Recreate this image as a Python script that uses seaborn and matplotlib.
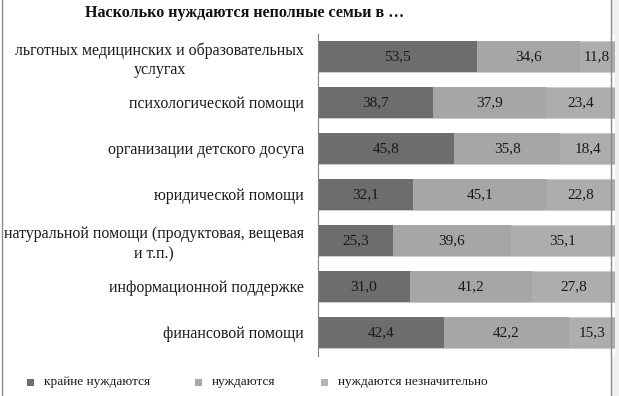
import matplotlib
matplotlib.use("Agg")
import matplotlib.pyplot as plt
import seaborn as sns
import numpy as np
import pandas as pd
from matplotlib.lines import Line2D
from matplotlib.patches import Rectangle

categories = [
    "льготных медицинских и образовательных\nуслугах",
    "психологической помощи",
    "организации детского досуга",
    "юридической помощи",
    "натуральной помощи (продуктовая, вещевая\nи т.п.)",
    "информационной поддержке",
    "финансовой помощи",
]
series_names = ["крайне нуждаются", "нуждаются", "нуждаются незначительно"]
s1 = [53.5, 38.7, 45.8, 32.1, 25.3, 31.0, 42.4]
s2 = [34.6, 37.9, 35.8, 45.1, 39.6, 41.2, 42.2]
s3 = [11.8, 23.4, 18.4, 22.8, 35.1, 27.8, 15.3]
labels = [["53,5", "38,7", "45,8", "32,1", "25,3", "31,0", "42,4"],
          ["34,6", "37,9", "35,8", "45,1", "39,6", "41,2", "42,2"],
          ["11,8", "23,4", "18,4", "22,8", "35,1", "27,8", "15,3"]]
colors = ["#6d6d6d", "#a6a6a6", "#adadad"]
legend_colors = ["#707070", "#a8a8a8", "#b4b4b4"]

sns.set_style("white")
plt.rcParams["font.family"] = ["Liberation Serif", "DejaVu Serif"]

W, H = 619, 396
fig = plt.figure(figsize=(W / 100, H / 100), dpi=100)
ax = fig.add_axes([318 / W, (H - 355.5) / H, (615 - 318) / W, (355.5 - 33.5) / H])

vals = np.array([s1, s2, s3])
cum = np.cumsum(vals, axis=0)
df = pd.DataFrame({"cat": categories})
# draw from the total down so each layer shows the right segment
for i in [2, 1, 0]:
    df["v"] = cum[i]
    sns.barplot(data=df, x="v", y="cat", orient="h", color=colors[i],
                saturation=1, width=0.68, ax=ax, edgecolor="#c8c8c8" if i == 2 else colors[i],
                linewidth=0.6 if i == 2 else 0)

starts = cum - vals
for i in range(3):
    for j in range(len(categories)):
        ax.text(starts[i][j] + vals[i][j] / 2, j, labels[i][j], ha="center", va="center",
                fontsize=11, color="#1a1a1a")

ax.set_xlim(0, 100)
ax.set_ylim(len(categories) - 0.5, -0.5)
ax.set_xlabel("")
ax.set_ylabel("")
ax.set_xticks([])
ax.set_yticks(range(len(categories)))
ax.set_yticklabels(categories, fontsize=11.4, multialignment="center", color="#1a1a1a",
                   linespacing=1.3)
ax.set_yticks(np.arange(-0.5, len(categories), 1), minor=True)
ax.tick_params(axis="y", which="major", length=0, pad=10)
ax.tick_params(axis="y", which="minor", length=4, width=0.8, color="#808080", direction="out")
for s in ["top", "right", "bottom"]:
    ax.spines[s].set_visible(False)
ax.spines["left"].set_color("#808080")
ax.spines["left"].set_linewidth(0.8)

fig.text(245 / W, 1 - 13 / H, "Насколько нуждаются неполные семьи в …", ha="center",
         va="center", fontsize=11.6, fontweight="bold", color="#111111")

# legend
lx = [30, 198, 324]
for k in range(3):
    fig.patches.append(Rectangle(((lx[k] - 3.5) / W, 1 - (382 + 3.5) / H), 7 / W, 7 / H,
                                 transform=fig.transFigure, facecolor=legend_colors[k],
                                 edgecolor="none"))
    fig.text((lx[k] + 14) / W, 1 - 382 / H, series_names[k], ha="left", va="center",
             fontsize=9.6, color="#1a1a1a")

# outer frame lines
fig.patches.append(Rectangle((611.5 / W, 0), (W - 611.5) / W, 1, transform=fig.transFigure,
                             facecolor="#f0f0f0", edgecolor="none", zorder=-1))
fig.add_artist(Line2D([1.5 / W, 1.5 / W], [0, 1], color="#8a8a8a", lw=1.0))
fig.add_artist(Line2D([611 / W, 611 / W], [0, 1], color="#8a8a8a", lw=1.0, zorder=10))

fig.savefig("out.png", dpi=100)
